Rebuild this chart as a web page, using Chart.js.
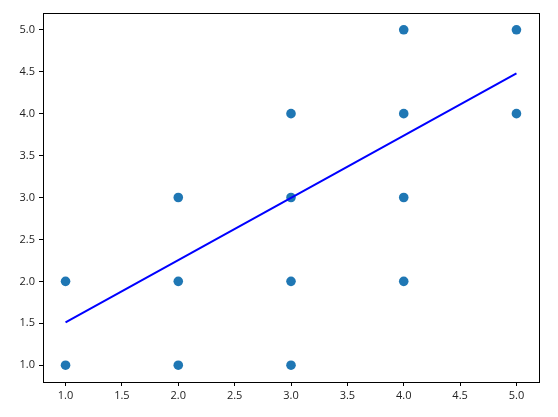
<!DOCTYPE html>
<html>
<head>
<meta charset="utf-8">
<script src="https://cdn.jsdelivr.net/npm/chart.js@4"></script>
<style>
html,body{margin:0;padding:0;background:#fff;}
#wrap{width:558px;height:417px;}
</style>
</head>
<body>
<div id="wrap"><canvas id="c" width="558" height="417"></canvas></div>
<script>
const pointX = [1, 1, 2, 2, 2, 3, 3, 3, 3, 4, 4, 4, 4, 5, 5];
const pointY = [1, 2, 1, 2, 3, 1, 2, 3, 4, 2, 3, 4, 5, 4, 5];
const fitX = [1, 5];
const fitY = [1.51, 4.48];
const xTicks = [1.0, 1.5, 2.0, 2.5, 3.0, 3.5, 4.0, 4.5, 5.0];
const yTicks = [1.0, 1.5, 2.0, 2.5, 3.0, 3.5, 4.0, 4.5, 5.0];

const frame = {
  id: 'frame',
  afterDatasetsDraw(chart) {
    const a = chart.chartArea, ctx = chart.ctx;
    ctx.save();
    ctx.strokeStyle = '#000';
    ctx.lineWidth = 1;
    ctx.strokeRect(Math.round(a.left) + 0.5, Math.round(a.top) + 0.5, Math.round(a.right - a.left), Math.round(a.bottom - a.top));
    ctx.restore();
  }
};

const font = { family: "'Open Sans', 'Noto Sans', sans-serif", size: 11 };

new Chart(document.getElementById('c'), {
  type: 'scatter',
  data: {
    datasets: [
      {
        type: 'line',
        data: fitX.map((x, i) => ({ x, y: fitY[i] })),
        borderColor: '#0000ff',
        borderWidth: 2,
        pointRadius: 0,
        fill: false,
        order: 0
      },
      {
        data: pointX.map((x, i) => ({ x, y: pointY[i] })),
        backgroundColor: '#1f77b4',
        borderColor: '#1f77b4',
        borderWidth: 0,
        pointRadius: 4.8,
        order: 1
      }
    ]
  },
  plugins: [frame],
  options: {
    responsive: false,
    animation: false,
    events: [],
    layout: { padding: { left: 0, right: 19, top: 13, bottom: 0 } },
    plugins: { legend: { display: false }, tooltip: { enabled: false } },
    scales: {
      x: {
        type: 'linear',
        min: 0.8, max: 5.2,
        afterBuildTicks: s => { s.ticks = xTicks.map(v => ({ value: v })); },
        afterFit: s => { s.height = 35; },
        grid: { display: true, drawOnChartArea: false, drawTicks: true, tickLength: 4, color: '#000', lineWidth: 1 },
        border: { display: false },
        ticks: { color: '#222', font, padding: 3, maxRotation: 0, callback: v => Number(v).toFixed(1) }
      },
      y: {
        type: 'linear',
        min: 0.8, max: 5.2,
        afterBuildTicks: s => { s.ticks = yTicks.map(v => ({ value: v })); },
        afterFit: s => { s.width = 43; },
        grid: { display: true, drawOnChartArea: false, drawTicks: true, tickLength: 4, color: '#000', lineWidth: 1 },
        border: { display: false },
        ticks: { color: '#222', font, padding: 4, callback: v => Number(v).toFixed(1) }
      }
    }
  }
});
</script>
</body>
</html>
